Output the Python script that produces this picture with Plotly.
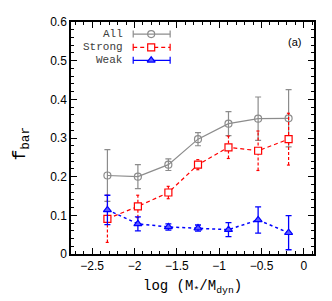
import plotly.graph_objects as go

# ---- data ----
x_vals = [-2.32, -1.96, -1.60, -1.25, -0.89, -0.54, -0.18]

all_y = [0.203, 0.200, 0.231, 0.297, 0.337, 0.350, 0.351]
all_err = [0.067, 0.031, 0.015, 0.017, 0.031, 0.056, 0.074]

strong_y = [0.091, 0.123, 0.159, 0.231, 0.276, 0.267, 0.297]
strong_err = [0.061, 0.029, 0.016, 0.013, 0.029, 0.051, 0.067]

weak_y = [0.114, 0.078, 0.070, 0.067, 0.063, 0.088, 0.055]
weak_err = [0.038, 0.018, 0.008, 0.008, 0.018, 0.034, 0.044]

legend_labels = ["All", "Strong", "Weak"]
x_title = "log (M<sub>*</sub>/M<sub>dyn</sub>)"
y_title = "f<sub>bar</sub>"

GRAY = "rgb(140,140,140)"
RED = "rgb(255,0,0)"
BLUE = "rgb(0,0,255)"
MONO = "Liberation Mono, Courier New, monospace"
SANS = "Liberation Sans, Arial, sans-serif"

fig = go.Figure()

# All
fig.add_trace(go.Scatter(
    x=x_vals, y=all_y, mode="lines+markers",
    line=dict(color=GRAY, width=1.2),
    marker=dict(symbol="circle-open", size=7, color=GRAY, line=dict(width=1.2)),
    error_y=dict(type="data", array=all_err, color=GRAY, thickness=1.2, width=3),
    showlegend=False))

# Strong: dashed error bars built from data
cap = 0.02
ex, ey = [], []
for xv, yv, ev in zip(x_vals, strong_y, strong_err):
    ex += [xv, xv, None, xv - cap, xv + cap, None, xv - cap, xv + cap, None]
    ey += [yv - ev, yv + ev, None, yv - ev, yv - ev, None, yv + ev, yv + ev, None]
fig.add_trace(go.Scatter(x=ex, y=ey, mode="lines",
                         line=dict(color=RED, width=1.2, dash="3px,2px"),
                         showlegend=False, hoverinfo="skip"))
fig.add_trace(go.Scatter(
    x=x_vals, y=strong_y, mode="lines+markers",
    line=dict(color=RED, width=1.2, dash="4px,3px"),
    marker=dict(symbol="square", size=7, color="white", line=dict(color=RED, width=1.2)),
    showlegend=False))

# Weak
fig.add_trace(go.Scatter(
    x=x_vals, y=weak_y, mode="lines+markers",
    line=dict(color=BLUE, width=1.5, dash="dot"),
    marker=dict(symbol="triangle-up", size=7, color="rgb(90,90,255)", line=dict(color=BLUE, width=1.2)),
    error_y=dict(type="data", array=weak_err, color=BLUE, thickness=1.3, width=3),
    showlegend=False))

# ---- manual legend on an overlay axis (paper-like 0..1) ----
leg_y = [0.948, 0.891, 0.835]
leg_styles = [
    (GRAY, "solid", "circle-open", GRAY),
    (RED, "4px,3px", "square", "white"),
    (BLUE, "solid", "triangle-up", "rgb(90,90,255)"),
]
for lbl, yy, (col, dash, sym, fill) in zip(legend_labels, leg_y, leg_styles):
    fig.add_trace(go.Scatter(x=[0.256, 0.408], y=[yy, yy], mode="lines",
                             line=dict(color=col, width=1.2, dash=dash),
                             xaxis="x2", yaxis="y2", showlegend=False, hoverinfo="skip"))
    fig.add_trace(go.Scatter(x=[0.256, 0.256, None, 0.408, 0.408], y=[yy - 0.015, yy + 0.015, None, yy - 0.015, yy + 0.015],
                             mode="lines", line=dict(color=col, width=1.2),
                             xaxis="x2", yaxis="y2", showlegend=False, hoverinfo="skip"))
    fig.add_trace(go.Scatter(x=[0.330], y=[yy], mode="markers",
                             marker=dict(symbol=sym, size=7, color=fill if sym != "circle-open" else col,
                                         line=dict(color=col, width=1.2)),
                             xaxis="x2", yaxis="y2", showlegend=False, hoverinfo="skip"))
    fig.add_annotation(x=0.223, y=yy, xref="paper", yref="paper", text=lbl,
                       showarrow=False, xanchor="right", yanchor="middle",
                       font=dict(family=MONO, size=11, color="rgb(60,60,60)"))

fig.add_annotation(x=0.921, y=0.915, xref="paper", yref="paper", text="(a)",
                   showarrow=False, xanchor="center", yanchor="middle",
                   font=dict(family=SANS, size=11, color="black"))

# axis titles as annotations for precise placement
fig.add_annotation(x=0.5, y=-0.142, xref="paper", yref="paper", text=x_title,
                   showarrow=False, xanchor="center", yanchor="middle",
                   font=dict(family=MONO, size=14, color="black"))
fig.add_annotation(x=-0.204, y=0.478, xref="paper", yref="paper", text=y_title,
                   showarrow=False, xanchor="center", yanchor="middle", textangle=-90,
                   font=dict(family=MONO, size=18, color="black"))

fig.update_layout(
    width=332, height=301,
    margin=dict(l=63, r=26, t=14, b=55),
    paper_bgcolor="white", plot_bgcolor="white",
    xaxis=dict(range=[-2.75, 0.12], dtick=0.5, tick0=0, ticks="inside", ticklen=6,
               tickwidth=1, tickcolor="black", mirror="allticks", showline=True,
               linecolor="black", linewidth=1.5, showgrid=False, zeroline=False,
               automargin=False,
               minor=dict(dtick=0.1, ticks="inside", ticklen=3, tickcolor="black"),
               tickfont=dict(family=SANS, size=12, color="black")),
    yaxis=dict(range=[0, 0.6], dtick=0.1, ticks="inside", ticklen=6,
               tickwidth=1, tickcolor="black", mirror="allticks", showline=True,
               linecolor="black", linewidth=1.5, showgrid=False, zeroline=False,
               automargin=False,
               minor=dict(dtick=0.02, ticks="inside", ticklen=3, tickcolor="black"),
               tickfont=dict(family=SANS, size=12, color="black")),
    xaxis2=dict(range=[0, 1], overlaying="x", visible=False, fixedrange=True, automargin=False),
    yaxis2=dict(range=[0, 1], overlaying="y", visible=False, fixedrange=True, automargin=False),
)

fig.write_html("out.html")
